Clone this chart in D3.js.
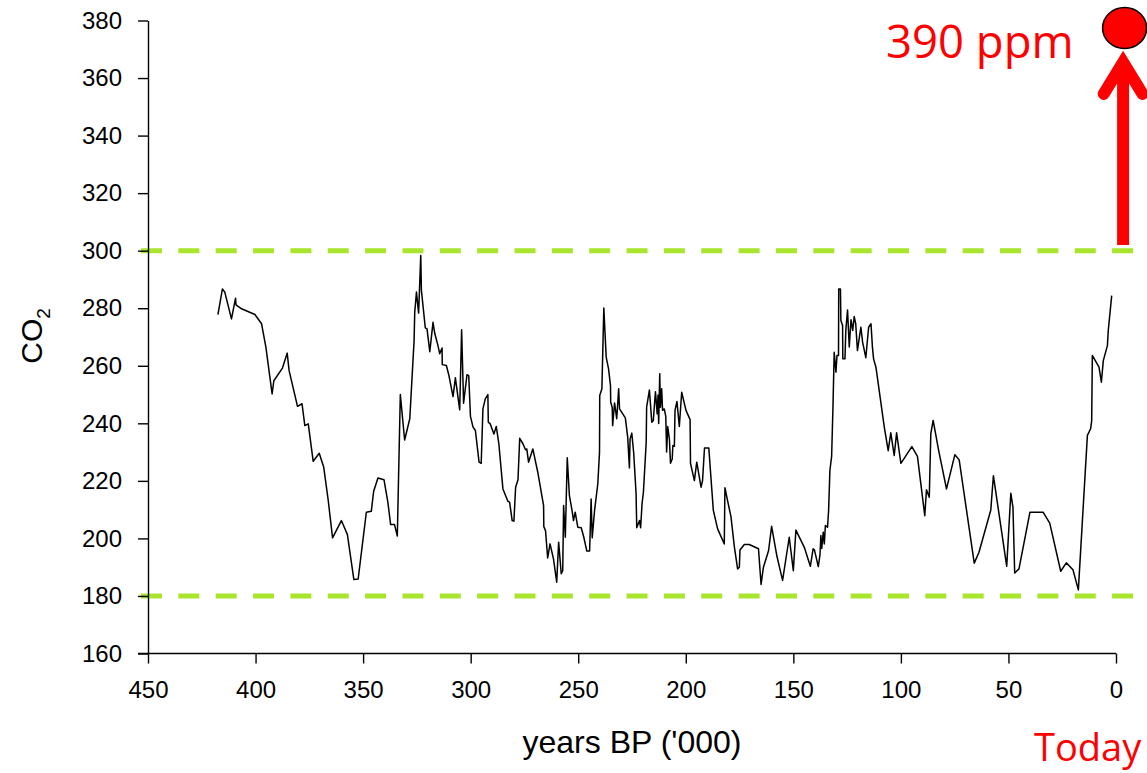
<!DOCTYPE html>
<html>
<head>
<meta charset="utf-8">
<script src="https://cdn.jsdelivr.net/npm/d3@7"></script>
<style>
html,body{margin:0;padding:0;background:#fff;}
svg{display:block;}
</style>
</head>
<body>
<svg id="chart" width="1147" height="773"></svg>
<script>
// ---- data (ages in thousand years BP, CO2 in ppm) ----
const ages = [417.5,415.4,414.3,411.2,409.3,409.1,406.5,400.3,397.2,395.2,392.3,391.5,387.5,385.3,384.4,380.5,378.4,377.1,375.5,373.2,370.4,368.3,366.3,364.2,360.1,357.3,354.3,352.3,350.5,348.5,346.2,345.1,343.1,340.3,338.5,337.2,335.4,334.1,332.7,330.7,328.3,326.3,326.0,325.2,324.2,323.2,322.9,321.1,320.3,319.0,317.5,316.7,315.2,314.4,313.3,313.2,311.3,310.1,308.2,307.1,305.1,304.2,303.3,301.7,300.9,300.1,298.9,297.8,296.1,295.1,294.3,293.2,292.0,291.8,290.9,289.2,288.1,286.9,285.0,282.7,281.9,280.7,279.9,279.1,278.0,277.2,275.7,274.5,273.9,273.1,271.1,268.8,266.1,266.0,265.2,264.2,263.1,261.5,260.0,259.1,257.9,257.2,256.8,256.0,255.1,254.1,252.8,252.2,251.4,250.2,248.6,247.4,246.0,244.7,244.0,243.5,242.4,240.9,240.1,240.0,239.0,238.1,237.0,235.9,235.0,234.9,234.2,234.0,233.1,232.1,231.2,230.8,228.1,227.0,226.2,225.9,225.1,224.2,223.1,222.8,221.5,221.0,220.3,219.7,218.4,218.2,216.9,215.8,215.1,214.1,213.3,212.9,212.6,212.1,211.8,211.2,210.8,210.0,209.3,208.9,208.4,207.6,207.1,206.3,206.0,205.3,205.0,204.1,203.0,201.9,199.9,198.0,197.8,196.0,194.9,192.9,192.2,191.3,189.3,187.2,185.2,182.1,181.8,180.6,179.0,177.4,175.9,175.1,174.8,172.8,170.5,166.2,165.0,163.9,161.5,160.1,157.6,155.0,151.9,150.0,148.8,144.9,142.1,140.8,140.2,138.4,137.6,137.2,136.8,136.1,135.6,135.1,134.1,133.6,133.0,132.2,131.6,131.0,130.2,129.7,129.0,128.9,128.1,127.9,127.1,127.0,126.0,125.6,124.8,124.0,123.2,122.4,121.7,121.0,120.2,118.6,117.8,116.3,115.0,113.9,113.2,112.7,111.6,107.7,105.9,104.7,103.1,102.0,100.0,94.9,92.3,88.9,88.1,86.8,86.1,85.0,82.5,78.8,74.9,72.9,65.9,63.7,58.2,57.0,50.8,48.9,47.9,47.1,45.1,40.0,33.9,30.8,25.7,23.1,20.0,17.5,13.3,11.8,11.3,11.0,7.9,6.8,5.9,4.0,3.6,2.0];
const co2 = [277.8,286.7,285.6,276.3,283.5,281.2,279.8,277.8,274.6,266.5,250.2,254.8,259.2,264.4,258.3,245.9,246.8,239.2,239.8,226.8,229.6,224.7,213.7,200.2,206.2,201.3,185.7,185.9,196.9,209.1,209.4,216.4,221.0,220.4,212.6,204.8,204.8,200.8,250.0,234.2,241.6,268.8,278.6,285.6,278.3,298.3,286.2,273.2,272.8,264.9,275.1,271.3,267.0,264.2,266.2,260.4,260.1,256.6,249.3,255.8,244.7,272.5,247.0,256.9,256.6,242.4,238.7,237.5,226.5,226.1,245.0,248.5,250.0,240.4,239.8,236.3,238.9,232.9,217.2,212.9,212.6,206.2,206.0,217.8,220.4,234.8,232.9,230.8,231.1,226.5,231.1,223.0,211.4,204.1,202.7,193.2,198.1,192.9,184.8,198.7,187.7,188.8,211.4,200.4,228.0,214.9,209.4,206.2,209.1,203.9,203.7,200.4,195.6,195.6,213.7,200.2,209.7,219.0,230.0,249.7,252.0,280.1,263.0,258.9,253.1,247.3,245.6,239.2,247.1,241.6,252.0,245.0,241.9,235.2,224.5,234.5,236.6,229.6,215.5,203.7,206.2,203.7,212.3,216.0,233.4,245.6,251.6,240.4,241.0,251.0,243.3,249.8,239.9,257.2,245.6,252.0,244.5,245.0,242.4,230.0,238.9,234.3,226.1,227.6,232.3,232.0,244.5,247.6,238.9,250.8,244.5,241.3,226.1,220.1,226.5,217.8,220.1,231.4,231.4,209.8,203.3,198.1,217.6,213.2,207.6,197.0,189.4,190.0,196.0,197.9,197.9,196.4,184.0,190.0,195.8,204.2,193.7,185.4,200.4,188.8,202.9,196.9,190.3,196.4,196.0,190.2,194.4,201.0,196.5,202.1,198.1,204.5,203.9,209.8,223.6,228.5,245.0,264.7,257.8,263.6,263.6,286.7,286.7,275.7,274.0,262.4,262.4,272.3,279.4,266.5,276.0,272.3,277.1,274.6,265.3,273.4,268.2,262.8,273.4,274.6,266.2,262.4,259.5,238.6,230.5,236.7,228.8,236.7,226.1,231.9,228.5,207.9,216.9,214.3,236.3,241.0,230.8,217.2,229.1,227.3,191.4,195.2,209.9,221.8,190.3,215.7,210.8,188.0,189.4,209.1,209.1,205.3,188.6,191.5,189.1,182.1,235.8,238.1,240.9,263.6,259.5,254.3,261.8,267.0,272.2,284.4];

const xTicks = [450,400,350,300,250,200,150,100,50,0];
const yTicks = [160,180,200,220,240,260,280,300,320,340,360,380];
const xDomain = [450, 0];
const yDomain = [160, 380];
const boundLevels = [300, 180];          // dashed green guide lines
const todayAge = -3.3;                   // position of the "today" arrow
const arrowBase = 302, arrowTip = 365.5, arrowArm = 354.5, armSpan = 9.0;
const dotLevel = 377.4;                  // marker for 390 ppm

// ---- chart ----
const svg = d3.select("#chart");
const W = 1147, H = 773;
const x = d3.scaleLinear().domain(xDomain).range([148, 1116]);
const y = d3.scaleLinear().domain(yDomain).range([653.5, 20.5]);

// green dashed bounds
svg.append("g").selectAll("line").data(boundLevels).join("line")
  .attr("x1", x.range()[0] - 7).attr("x2", W)
  .attr("y1", d => y(d)).attr("y2", d => y(d))
  .attr("stroke", "#a8e52c").attr("stroke-width", 5)
  .attr("stroke-dasharray", "21 16.35");

// axes
const axisFont = "'Liberation Sans', Arial, sans-serif";
const gy = svg.append("g").attr("transform", `translate(${x.range()[0]},0)`)
  .call(d3.axisLeft(y).tickValues(yTicks).tickSize(10).tickSizeOuter(0).tickPadding(16));
const gx = svg.append("g").attr("transform", `translate(0,${y.range()[0]})`)
  .call(d3.axisBottom(x).tickValues(xTicks).tickSize(10).tickSizeOuter(0).tickPadding(17));
[gx, gy].forEach(g => {
  g.selectAll("path, line").attr("stroke", "#000").attr("stroke-width", 1.4);
  g.selectAll("text").attr("font-family", axisFont).attr("font-size", 24).attr("fill", "#000");
});
gx.select(".domain").attr("d", `M${x.range()[0] - 10},0H${x.range()[1]}`);

// data line
const line = d3.line().x(d => x(d[0])).y(d => y(d[1]));
svg.append("path")
  .datum(ages.map((a, i) => [a, co2[i]]))
  .attr("d", line)
  .attr("fill", "none").attr("stroke", "#000").attr("stroke-width", 1.5)
  .attr("stroke-linejoin", "round");

// axis titles
svg.append("text").attr("x", 632).attr("y", 753)
  .attr("text-anchor", "middle").attr("font-family", axisFont).attr("font-size", 32)
  .text("years BP ('000)");
const co = svg.append("text").attr("transform", "translate(42,336) rotate(-90)")
  .attr("text-anchor", "middle").attr("font-family", axisFont).attr("font-size", 30);
co.append("tspan").text("CO");
co.append("tspan").attr("font-size", 19).attr("dy", 8).text("2");

// red arrow + dot
const ax = x(todayAge);
svg.append("line").attr("x1", ax).attr("x2", ax)
  .attr("y1", y(arrowBase)).attr("y2", y(arrowTip) + 4)
  .attr("stroke", "#ff0000").attr("stroke-width", 12);
svg.append("path")
  .attr("d", `M${x(todayAge + armSpan)},${y(arrowArm)}L${ax},${y(arrowTip)}L${x(todayAge - armSpan)},${y(arrowArm)}`)
  .attr("fill", "none").attr("stroke", "#ff0000").attr("stroke-width", 12)
  .attr("stroke-linecap", "round").attr("stroke-linejoin", "miter");
svg.append("ellipse").attr("cx", ax + 1.5).attr("cy", y(dotLevel))
  .attr("rx", 22).attr("ry", 20.5)
  .attr("fill", "#ff0000").attr("stroke", "#000").attr("stroke-width", 1.6);

const redFont = "'Open Sans', 'Noto Sans', sans-serif";
svg.append("text").attr("x", 886).attr("y", 58)
  .attr("font-family", redFont).attr("font-size", 45.5).attr("fill", "#ff0000")
  .text("390 ppm");
svg.append("text").attr("x", 1034).attr("y", 761)
  .attr("font-family", redFont).attr("font-size", 38).attr("fill", "#ff0000")
  .text("Today");
</script>
</body>
</html>
